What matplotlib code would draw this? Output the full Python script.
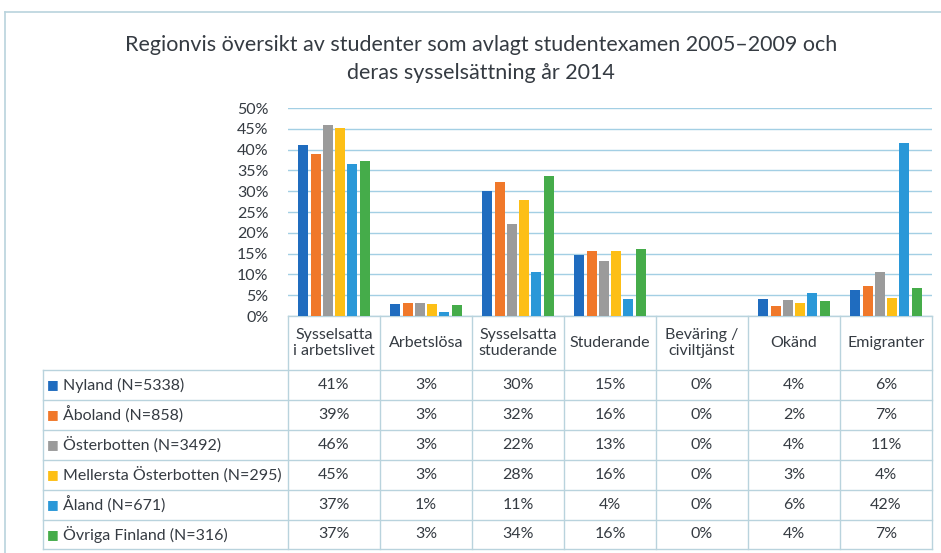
import matplotlib.pyplot as plt
import matplotlib.transforms as mtransforms
import numpy as np

plt.rcParams['font.family'] = ['Lato', 'DejaVu Sans']

categories = ['Sysselsatta\ni arbetslivet', 'Arbetslösa', 'Sysselsatta\nstuderande',
              'Studerande', 'Beväring /\nciviltjänst', 'Okänd', 'Emigranter']
regions = ['Nyland (N=5338)', 'Åboland (N=858)', 'Österbotten (N=3492)',
           'Mellersta Österbotten (N=295)', 'Åland (N=671)', 'Övriga Finland (N=316)']

nyland = [41.2, 2.8, 30.0, 14.6, 0, 4.2, 6.2]
aboland = [39.0, 3.1, 32.3, 15.6, 0, 2.4, 7.3]
osterbotten = [45.9, 3.1, 22.0, 13.3, 0, 3.8, 10.6]
mellersta = [45.2, 3.0, 28.0, 15.6, 0, 3.2, 4.4]
aland = [36.6, 1.0, 10.6, 4.1, 0, 5.6, 41.6]
ovriga = [37.2, 2.6, 33.6, 16.0, 0, 3.6, 6.7]
series = [nyland, aboland, osterbotten, mellersta, aland, ovriga]

colors = ['#1f6cbf', '#f0782a', '#9b9b9b', '#fdbf16', '#2a98d8', '#45ac4a']
text_col = '#353b42'
line_col = '#b9d3dd'

W, H = 941, 553
fig = plt.figure(figsize=(W / 100, H / 100), dpi=100)

def fy(py):
    return 1 - py / H

ax = fig.add_axes([288 / W, fy(316), 644 / W, (316 - 108) / H])
x = np.arange(len(categories))
pitch = 0.133
for i, vals in enumerate(series):
    ax.bar(x + (i - 2.5) * pitch, vals, width=0.11, color=colors[i], zorder=3)

ax.set_xlim(-0.5, len(categories) - 0.5)
ax.set_ylim(0, 50)
ax.set_yticks(np.arange(0, 51, 5))
ax.set_yticklabels([f'{t}%' for t in range(0, 51, 5)])
ax.tick_params(axis='y', length=0, pad=14, labelsize=11.5, labelcolor=text_col)
ax.set_xticks([])
for s in ax.spines.values():
    s.set_visible(False)
ax.yaxis.grid(True, color='#a3cfe4', linewidth=1)
ax.set_axisbelow(True)

# data table under the bars
tr = mtransforms.blended_transform_factory(ax.transData, fig.transFigure)
left = -3.16
row_lines = [370, 400, 430, 460, 490, 520, 549]
kw = dict(transform=tr, color=line_col, linewidth=1, clip_on=False)
ax.plot([-0.5, 6.5], [fy(316), fy(316)], **kw)
for py in row_lines:
    ax.plot([left, 6.5], [fy(py), fy(py)], **kw)
for k in range(len(categories) + 1):
    ax.plot([k - 0.5, k - 0.5], [fy(316), fy(549)], **kw)
ax.plot([left, left], [fy(370), fy(549)], **kw)

for j, cat in enumerate(categories):
    ax.text(j, fy(343), cat, transform=tr, ha='center', va='center',
            fontsize=11.5, color=text_col, linespacing=1.25)

for i, (name, vals) in enumerate(zip(regions, series)):
    yc = fy((row_lines[i] + row_lines[i + 1]) / 2)
    ax.text(left + 0.21, yc, name, transform=tr, ha='left', va='center',
            fontsize=11.5, color=text_col)
    ax.text(left + 0.105, yc, '■', transform=tr, ha='center', va='center',
            fontsize=9, color=colors[i], family='DejaVu Sans')
    for j, v in enumerate(vals):
        ax.text(j, yc, f'{round(v)}%', transform=tr, ha='center', va='center',
                fontsize=11.5, color=text_col)

fig.text(481 / W, fy(45), 'Regionvis översikt av studenter som avlagt studentexamen 2005–2009 och',
         ha='center', va='center', fontsize=15.5, color=text_col)
fig.text(481 / W, fy(73), 'deras sysselsättning år 2014',
         ha='center', va='center', fontsize=15.5, color=text_col)

# outer frame
fig.add_artist(plt.Line2D([5 / W, 1], [fy(12), fy(12)], color=line_col, linewidth=1.2))
fig.add_artist(plt.Line2D([5 / W, 5 / W], [fy(12), 0], color=line_col, linewidth=1.2))

fig.savefig('out.png', dpi=100)
